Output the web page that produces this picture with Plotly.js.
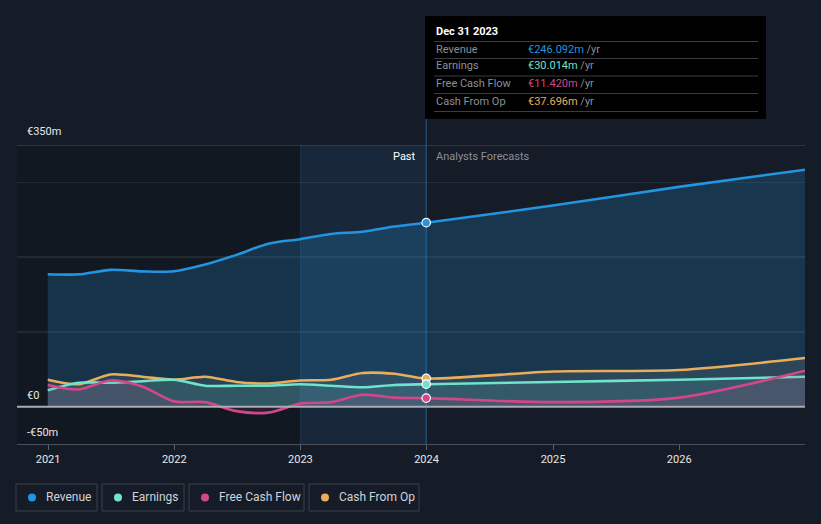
<!DOCTYPE html>
<html>
<head>
<meta charset="utf-8">
<script src="https://cdn.plot.ly/plotly-3.0.1.min.js"></script>
<style>
html,body{margin:0;padding:0;background:#161c27;}
#chart{width:821px;height:524px;}
</style>
</head>
<body>
<div id="chart"></div>
<script>
// ---- data (values in € millions) ----
const pastDates = ['2020-12-31','2021-03-31','2021-06-30','2021-09-30','2021-12-31','2022-03-31','2022-06-30','2022-09-30','2022-12-31','2023-03-31','2023-06-30','2023-09-30','2023-12-31'];
const forecastDates = ['2023-12-31','2024-12-31','2025-12-31','2026-12-31'];

const revenuePast = [177,177,183,181,181,190,203,218,224,231,234,241,246.092];
const revenueFc = [246.092,269,294,317];

const earningsPast = [22,32,32,34,36,28,28,28,30,28,26,29,30.014];
const earningsFc = [30.014,33,36,40];

const fcfPast = [29,23,35,27,7,6,-6,-8,4,6,16,12,11.42];
const fcfFc = [11.42,6,12,48];

const cfoPast = [36,30,43,40,36,40,33,31,35,36,45,44,37.696];
const cfoFc = [37.696,47,49,65];

const yearTicks = ['2021-01-01','2022-01-01','2023-01-01','2024-01-01','2025-01-01','2026-01-01'];
const yearLabels = ['2021','2022','2023','2024','2025','2026'];

const tipDate = 'Dec 31 2023';
const tipNames = ['Revenue','Earnings','Free Cash Flow','Cash From Op'];
const tipValues = ['€246.092m','€30.014m','€11.420m','€37.696m'];
const legendNames = ['Revenue','Earnings','Free Cash Flow','Cash From Op'];

// ---- style ----
const C = {rev:'#2394df', earn:'#6fe3cb', fcf:'#d1478a', cfo:'#e8ae5c'};
const L=17,R=805,T=145,B=444;
const px = X => (X-L)/(R-L);
const py = Y => (B-Y)/(B-T);

function lineTrace(x,y,color,fill){
  return {x:x,y:y,type:'scatter',mode:'lines',line:{color:color,width:2.6,shape:'spline',smoothing:0.8},
    fill:'tozeroy',fillcolor:fill,hoverinfo:'skip',showlegend:false};
}
const allDates = pastDates.concat(forecastDates.slice(1));
const traces = [
  lineTrace(allDates, revenuePast.concat(revenueFc.slice(1)), C.rev, 'rgba(35,148,223,0.22)'),
  lineTrace(allDates, cfoPast.concat(cfoFc.slice(1)), C.cfo, 'rgba(180,180,170,0.13)'),
  lineTrace(allDates, earningsPast.concat(earningsFc.slice(1)), C.earn, 'rgba(111,227,203,0.13)'),
  lineTrace(allDates, fcfPast.concat(fcfFc.slice(1)), C.fcf, 'rgba(209,71,138,0.13)'),
  {x:[pastDates[12],pastDates[12],pastDates[12],pastDates[12]],
   y:[revenuePast[12],cfoPast[12],earningsPast[12],fcfPast[12]],
   type:'scatter',mode:'markers',hoverinfo:'skip',showlegend:false,
   marker:{size:8.5,color:[C.rev,C.cfo,C.earn,C.fcf],line:{color:'#ffffff',width:1.2}}}
];

const shapes = [
  {type:'rect',xref:'paper',yref:'paper',x0:0,x1:px(301),y0:0,y1:1,fillcolor:'rgba(0,0,0,0.14)',line:{width:0},layer:'below'},
  {type:'rect',xref:'x',yref:'paper',x0:'2023-01-01',x1:'2023-12-31',y0:0,y1:1,fillcolor:'rgba(35,120,190,0.13)',line:{width:0},layer:'below'},
  {type:'line',xref:'x',yref:'paper',x0:'2023-01-01',x1:'2023-01-01',y0:0,y1:1,line:{color:'rgba(90,140,190,0.18)',width:1},layer:'below'},
  {type:'line',xref:'paper',yref:'y',x0:0,x1:1,y0:350,y1:350,line:{color:'#4a505b',width:1.2}},
  {type:'line',xref:'paper',yref:'y',x0:0,x1:1,y0:0,y1:0,line:{color:'#a9acb2',width:2}},
  {type:'line',xref:'x',yref:'paper',x0:'2023-12-31',x1:'2023-12-31',y0:0,y1:py(119),line:{color:'#1f4a6e',width:1.5},layer:'below'},
  {type:'rect',xref:'paper',yref:'paper',x0:px(425),x1:px(766),y0:py(119),y1:py(16),fillcolor:'#000000',line:{width:0}}
];
const sepY=[41.5,58.5,76,93.5,111.5];
sepY.forEach(Y=>shapes.push({type:'line',xref:'paper',yref:'paper',x0:px(434),x1:px(758),y0:py(Y),y1:py(Y),line:{color:'#3a3d44',width:1}}));

const annotations = [
  {xref:'paper',yref:'paper',x:px(25),y:py(131),text:'€350m',showarrow:false,xanchor:'left',yanchor:'middle',font:{color:'#e8e8e8',size:11}},
  {xref:'paper',yref:'paper',x:px(25),y:py(395),text:'€0',showarrow:false,xanchor:'left',yanchor:'middle',font:{color:'#e8e8e8',size:11}},
  {xref:'paper',yref:'paper',x:px(25),y:py(432),text:'-€50m',showarrow:false,xanchor:'left',yanchor:'middle',font:{color:'#e8e8e8',size:11}},
  {xref:'paper',yref:'paper',x:px(418),y:py(156),text:'Past',showarrow:false,xanchor:'right',yanchor:'middle',font:{color:'#ffffff',size:11}},
  {xref:'paper',yref:'paper',x:px(434),y:py(156),text:'Analysts Forecasts',showarrow:false,xanchor:'left',yanchor:'middle',font:{color:'#8a8f98',size:11}},
  {xref:'paper',yref:'paper',x:px(434),y:py(31),text:'<b>'+tipDate+'</b>',showarrow:false,xanchor:'left',yanchor:'middle',font:{color:'#ffffff',size:11}}
];
const tipRowY=[49,66,84,101];
const tipColors=[C.rev,C.earn,C.fcf,C.cfo];
tipNames.forEach((n,i)=>{
  annotations.push({xref:'paper',yref:'paper',x:px(434),y:py(tipRowY[i]),text:n,showarrow:false,xanchor:'left',yanchor:'middle',font:{color:'#8a8f98',size:11}});
  annotations.push({xref:'paper',yref:'paper',x:px(526),y:py(tipRowY[i]),text:'<span style="color:'+tipColors[i]+'">'+tipValues[i]+'</span> /yr',showarrow:false,xanchor:'left',yanchor:'middle',font:{color:'#8a8f98',size:11}});
});

const legBoxes=[[16,97],[102,184],[189,304],[309,419]];
legendNames.forEach((n,i)=>{
  const b=legBoxes[i];
  shapes.push({type:'rect',xref:'paper',yref:'paper',x0:px(b[0]),x1:px(b[1]),y0:py(511),y1:py(484),line:{color:'#3b414c',width:1},fillcolor:'rgba(0,0,0,0)'});
  shapes.push({type:'circle',xref:'paper',yref:'paper',x0:px(b[0]+12),x1:px(b[0]+20),y0:py(501.5),y1:py(493.5),fillcolor:tipColors[i],line:{width:0}});
  annotations.push({xref:'paper',yref:'paper',x:px(b[0]+28),y:py(497),text:n,showarrow:false,xanchor:'left',yanchor:'middle',font:{color:'#d0d3d8',size:12}});
});

const layout = {
  width:821,height:524,
  margin:{l:L,r:821-R,t:T,b:524-B,pad:0},
  paper_bgcolor:'#161c27',plot_bgcolor:'#161c27',
  font:{family:'Roboto, "Open Sans", sans-serif',color:'#e8e8e8',size:11},
  showlegend:false,
  xaxis:{type:'date',range:['2020-10-03','2026-12-31'],tickvals:yearTicks,ticktext:yearLabels,
    ticks:'outside',ticklen:5,tickcolor:'#5a606b',showgrid:false,zeroline:false,
    showline:true,linecolor:'#4a505b',linewidth:1.2,tickfont:{color:'#e8e8e8',size:11},fixedrange:true},
  yaxis:{range:[-50,350],tickvals:[100,200,300],showticklabels:false,showgrid:true,gridcolor:'rgba(255,255,255,0.07)',gridwidth:1.5,
    zeroline:false,showline:false,fixedrange:true},
  shapes:shapes,annotations:annotations
};
Plotly.newPlot('chart',traces,layout,{displayModeBar:false,staticPlot:true});
</script>
</body>
</html>
